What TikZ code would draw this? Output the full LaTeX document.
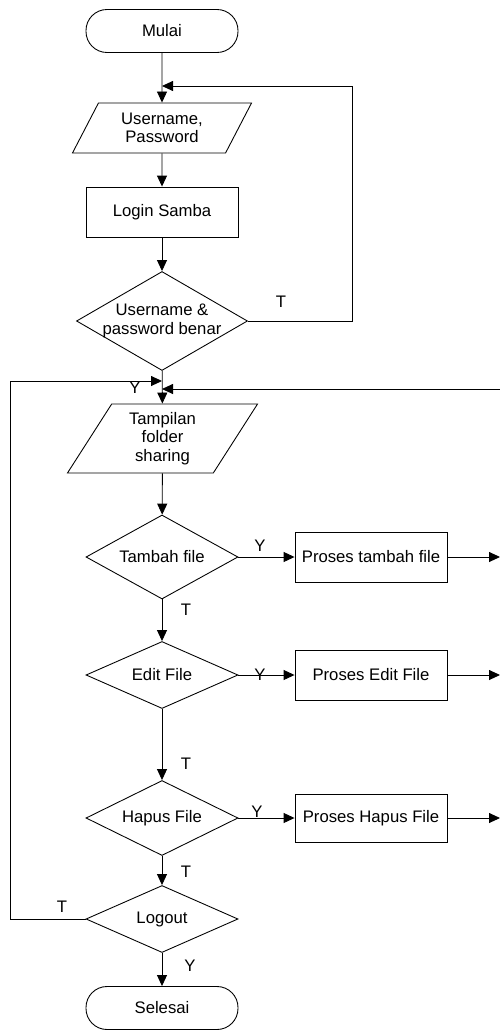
\documentclass[tikz,border=0pt]{standalone}
\usepackage{fontspec}
\setmainfont{Liberation Sans}
\usetikzlibrary{arrows.meta,shapes}
\tikzset{>={Triangle[length=2.2mm,width=2mm]}}
\tikzstyle{terminal}=[rectangle,rounded corners=0.42cm,draw,minimum width=3.04cm,minimum height=0.86cm]
\tikzstyle{proses}=[rectangle,draw,minimum width=3.04cm,minimum height=1cm]
\tikzstyle{io}=[trapezium,trapezium left angle=61,trapezium right angle=119,trapezium stretches=true,draw,align=center,inner sep=0pt]
\tikzstyle{keputusan}=[diamond,draw,minimum width=3.04cm,inner sep=0pt,align=center]
\tikzstyle{ket}=[inner sep=0pt]

\begin{document}
\begin{tikzpicture}[line width=0.5pt,font=\fontsize{9.5}{10.5}\selectfont]
    \useasboundingbox (0,0) rectangle (10,-20.64);

    \node[terminal] (mulai) at (3.24,-0.62) {Mulai};
    \node[io,minimum width=3.6cm,minimum height=1cm] (input) at (3.24,-2.56) {Username,\\Password};
    \node[proses] (login) at (3.24,-4.24) {Login Samba};
    \node[keputusan,aspect=1.73,inner sep=-2.5pt,minimum width=3.42cm,minimum height=1.98cm] (cek) at (3.24,-6.42) {Username \&\\password benar};
    \node[io,minimum width=3.82cm,minimum height=1.38cm] (tampil) at (3.25,-8.77) {Tampilan\\folder\\sharing};
    \node[keputusan,aspect=1.81,minimum height=1.68cm] (tambah) at (3.24,-11.14) {Tambah file};
    \node[keputusan,aspect=2.27,minimum height=1.34cm] (edit) at (3.24,-13.5) {Edit File};
    \node[keputusan,aspect=2.03,minimum height=1.5cm] (hapus) at (3.24,-16.36) {Hapus File};
    \node[keputusan,aspect=2.27,minimum height=1.34cm] (logout) at (3.24,-18.38) {Logout};
    \node[terminal] (selesai) at (3.24,-20.16) {Selesai};

    \node[proses] (ptambah) at (7.42,-11.14) {Proses tambah file};
    \node[proses] (pedit) at (7.42,-13.5) {Proses Edit File};
    \node[proses,minimum height=0.96cm] (phapus) at (7.42,-16.36) {Proses Hapus File};

    % titik sambung
    \coordinate (j1) at (3.24,-1.72);
    \coordinate (j2) at (3.24,-7.62);
    \coordinate (j3) at (3.24,-7.78);
    \coordinate (kanan) at (7.04,-1.72);
    \coordinate (kiri) at (0.2,-7.62);
    \coordinate (balik) at (10,-7.78);
    \coordinate (o1) at (10,-11.14);
    \coordinate (o2) at (10,-13.5);
    \coordinate (o3) at (10,-16.36);

    \draw[->] (mulai) -- (input);
    \draw[->] (input) -- (login);
    \draw[->] (login) -- (cek);
    \draw[->] (cek) -- (tampil);
    \draw[->] (tampil) -- (tambah);
    \draw[->] (tambah) -- (edit);
    \draw[->] (edit) -- (hapus);
    \draw[->] (hapus) -- (logout);
    \draw[->] (logout) -- (selesai);

    \draw[->] (cek.east) -| (kanan) -- (j1);
    \draw[->] (logout.west) -| (kiri) -- (j2);
    \draw[->] (balik) -- (j3);

    \draw[->] (tambah) -- (ptambah);
    \draw[->] (edit) -- (pedit);
    \draw[->] (hapus) -- (phapus);
    \draw[->] (ptambah) -- (o1);
    \draw[->] (pedit) -- (o2);
    \draw[->] (phapus) -- (o3);

    \node[ket] (t1) at (5.62,-6.04) {T};
    \node[ket] (y1) at (2.7,-7.76) {Y};
    \node[ket] (y2) at (5.2,-10.92) {Y};
    \node[ket] (t2) at (3.72,-12.2) {T};
    \node[ket] (y3) at (5.2,-13.5) {Y};
    \node[ket] (t3) at (3.72,-15.28) {T};
    \node[ket] (y4) at (5.14,-16.24) {Y};
    \node[ket] (t4) at (3.72,-17.44) {T};
    \node[ket] (t5) at (1.24,-18.14) {T};
    \node[ket] (y5) at (3.8,-19.32) {Y};
\end{tikzpicture}
\end{document}
